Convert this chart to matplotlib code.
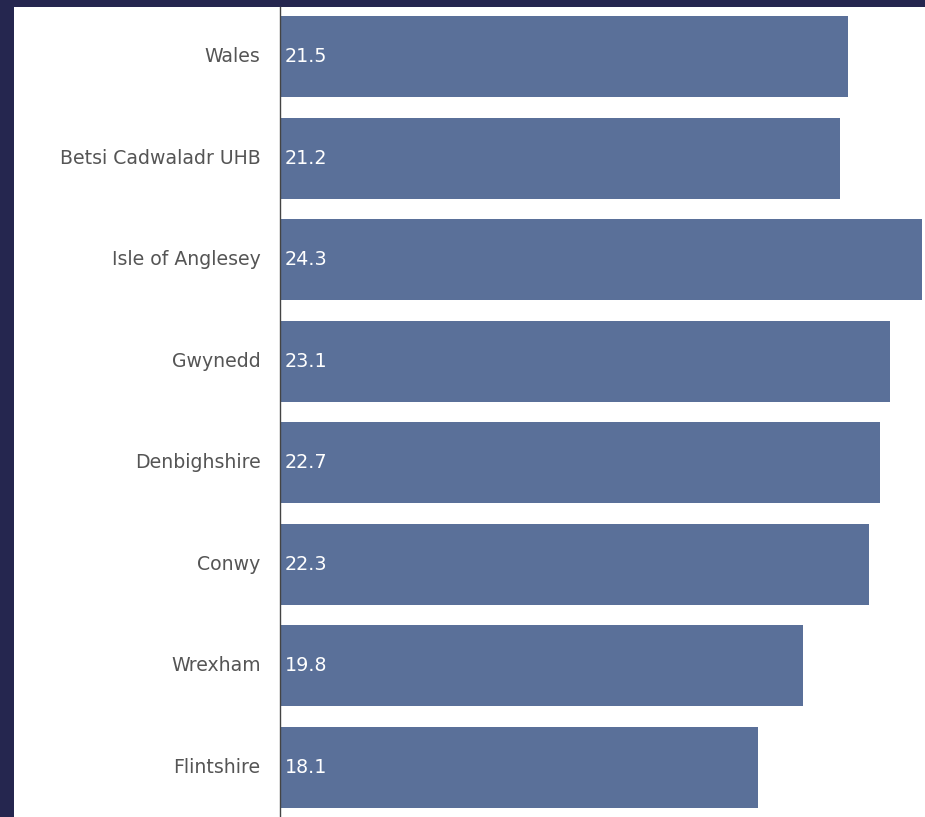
import matplotlib
matplotlib.use("Agg")
import matplotlib.pyplot as plt

# data
areas = ["Wales", "Betsi Cadwaladr UHB", "Isle of Anglesey", "Gwynedd",
         "Denbighshire", "Conwy", "Wrexham", "Flintshire"]
values = [21.5, 21.2, 24.3, 23.1, 22.7, 22.3, 19.8, 18.1]

BAR_COLOR = "#5a7099"
FRAME_COLOR = "#25264f"
LABEL_COLOR = "#555555"

W, H = 925, 817
fig = plt.figure(figsize=(W / 100, H / 100), dpi=100)
fig.patch.set_facecolor(FRAME_COLOR)

# white panel inside the dark frame
bg = fig.add_axes([14 / W, 0, 1 - 14 / W, (H - 7) / H], zorder=-1)
bg.set_facecolor("white")
bg.set_xticks([])
bg.set_yticks([])
for s in bg.spines.values():
    s.set_visible(False)

ax = fig.add_axes([280 / W, 0, 1 - 280 / W, (H - 7) / H])
ax.set_facecolor("none")

ypos = list(range(len(areas)))
ax.barh(ypos, values, height=0.8, color=BAR_COLOR)

for y, v in zip(ypos, values):
    ax.text(0.17, y, f"{v:.1f}", color="white", fontsize=13.8,
            va="center", ha="left")

ax.set_xlim(0, 24.42)
ax.set_ylim(len(areas) - 1 + 0.49, -0.49)
ax.set_yticks(ypos)
ax.set_yticklabels(areas, fontsize=13.6, color=LABEL_COLOR, va="center")
ax.tick_params(axis="y", length=0, pad=14)
ax.set_xticks([])

for side in ["top", "right", "bottom"]:
    ax.spines[side].set_visible(False)
ax.spines["left"].set_color("#444444")
ax.spines["left"].set_linewidth(1.0)

fig.savefig("out.png", dpi=100, facecolor=fig.get_facecolor())
